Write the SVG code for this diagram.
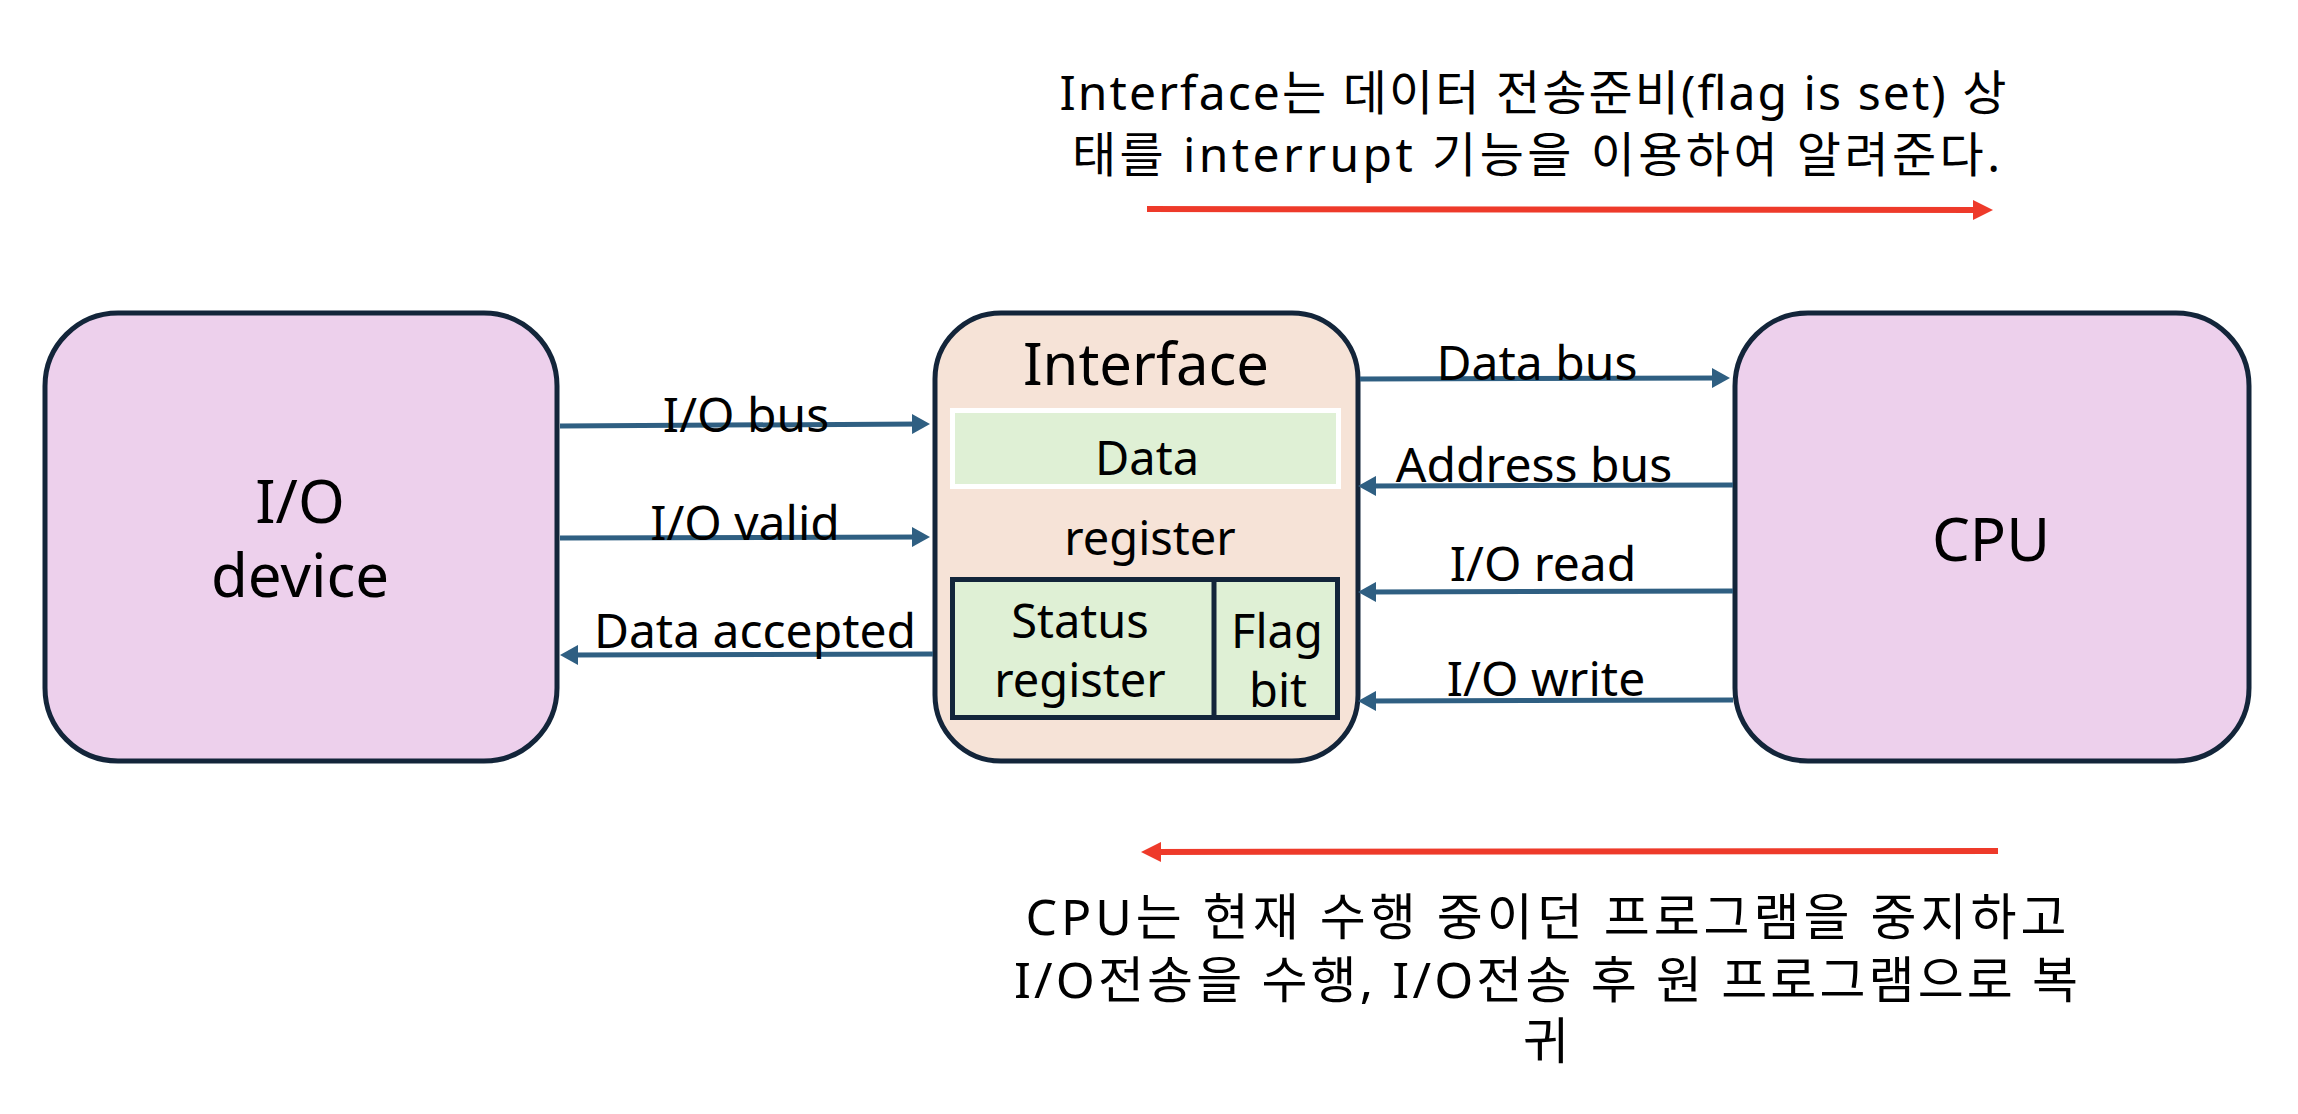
<svg xmlns="http://www.w3.org/2000/svg" width="2298" height="1114" viewBox="0 0 2298 1114">
  <style>
    text { font-family: "Noto Sans", "Noto Sans CJK KR", sans-serif; fill: #000; text-anchor: middle; }
    .box { stroke: #13253A; stroke-width: 5; }
    .dev { fill: #EDD0EC; }
    .intf { fill: #F6E3D7; }
    .reg { fill: #DFF0D5; }
    .big { font-size: 60px; }
    .mid { font-size: 47px; }
    .lbl { font-size: 48px; }
    .note { font-size: 48px; }
    .note2 { font-size: 50px; }
    .conn { stroke: #2F5F82; stroke-width: 5; fill: none; marker-end: url(#ah); }
    .red { stroke: #EE3A2A; stroke-width: 6; fill: none; marker-end: url(#rh); }
  </style>
  <defs>
    <marker id="ah" markerUnits="userSpaceOnUse" markerWidth="18" markerHeight="20" viewBox="0 0 18 20" refX="8" refY="10" orient="auto">
      <path d="M0,0 L18,10 L0,20 z" fill="#2F5F82"/>
    </marker>
    <marker id="rh" markerUnits="userSpaceOnUse" markerWidth="20" markerHeight="20" viewBox="0 0 20 20" refX="9" refY="10" orient="auto">
      <path d="M0,0 L20,10 L0,20 z" fill="#EE3A2A"/>
    </marker>
  </defs>
  <rect width="2298" height="1114" fill="#FFFFFF"/>

  <g id="io-device">
    <rect class="box dev" x="45" y="313" width="512" height="448" rx="73" ry="73"/>
    <text class="big" x="300" y="523">I/O</text>
    <text class="big" x="300" y="597">device</text>
  </g>

  <g id="interface">
    <rect class="box intf" x="935" y="313" width="423" height="448" rx="66" ry="66"/>
    <text style="font-size:58px" x="1146" y="385">Interface</text>
  </g>

  <g id="data-register">
    <rect class="reg" x="952.5" y="410.5" width="386" height="76" stroke="#FFFFFF" stroke-width="5"/>
    <text class="mid" x="1147" y="475">Data</text>
    <text class="mid" x="1150" y="555">register</text>
  </g>

  <g id="status-register">
    <rect class="box reg" x="952.5" y="579.5" width="385" height="138"/>
    <text class="mid" x="1080" y="638">Status</text>
    <text class="mid" x="1080" y="697">register</text>
  </g>

  <g id="flag-bit">
    <line class="box" x1="1214" y1="579.5" x2="1214" y2="717.5"/>
    <text class="mid" x="1277" y="648">Flag</text>
    <text class="mid" x="1278" y="707">bit</text>
  </g>

  <g id="cpu">
    <rect class="box dev" x="1735" y="313" width="514" height="448" rx="73" ry="73"/>
    <text class="big" x="1991" y="561">CPU</text>
  </g>

  <g id="connectors">
    <path class="conn" d="M560,426 L920,424"/>
    <path class="conn" d="M560,538 L920,537"/>
    <path class="conn" d="M933,654 L570,655"/>
    <path class="conn" d="M1360,379 L1720,378"/>
    <path class="conn" d="M1733,485 L1368,486"/>
    <path class="conn" d="M1733,591 L1368,592"/>
    <path class="conn" d="M1733,700 L1368,701"/>
    <path class="red" d="M1147,209 L1982,210"/>
    <path class="red" d="M1998,851 L1152,852"/>
  </g>

  <g id="connector-labels">
    <text class="lbl" x="746" y="432">I/O bus</text>
    <text class="lbl" x="745" y="540">I/O valid</text>
    <text class="lbl" x="755" y="648">Data accepted</text>
    <text class="lbl" x="1537" y="380">Data bus</text>
    <text class="lbl" x="1534" y="482">Address bus</text>
    <text class="lbl" x="1543" y="581">I/O read</text>
    <text class="lbl" x="1546" y="696">I/O write</text>
  </g>

  <g id="note-top">
    <text class="note" x="1533" y="110" textLength="947">Interface는 데이터 전송준비(flag is set) 상</text>
    <text class="note" x="1536" y="172" textLength="928">태를 interrupt 기능을 이용하여 알려준다.</text>
  </g>

  <g id="note-bottom">
    <text class="note2" x="1546" y="935" textLength="1041">CPU는 현재 수행 중이던 프로그램을 중지하고</text>
    <text class="note2" x="1546" y="998" textLength="1064">I/O전송을 수행, I/O전송 후 원 프로그램으로 복</text>
    <text class="note2" x="1546" y="1059">귀</text>
  </g>
</svg>
